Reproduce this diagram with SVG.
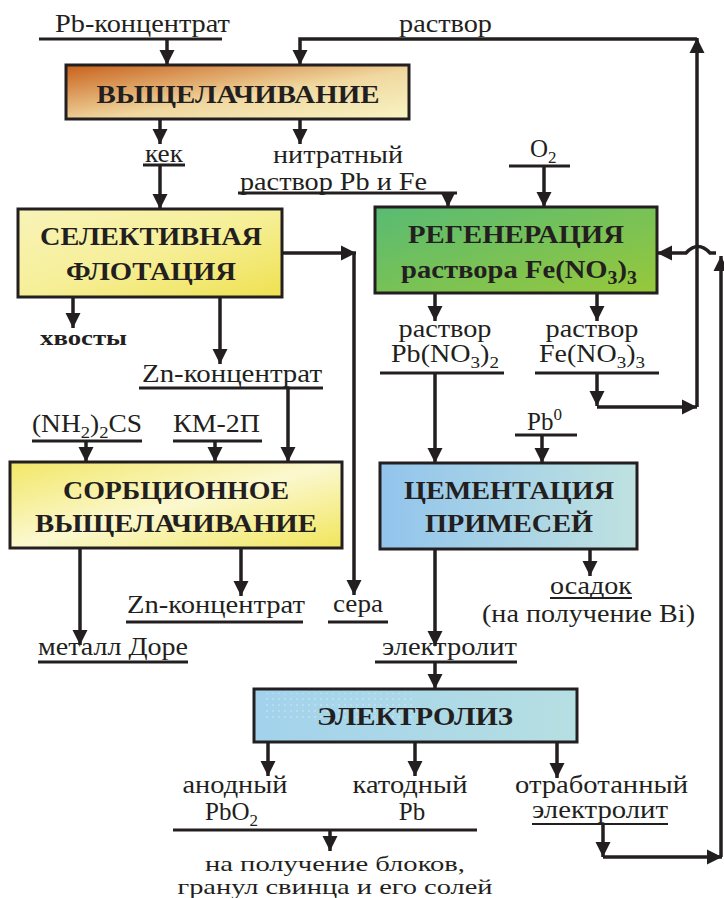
<svg xmlns="http://www.w3.org/2000/svg" width="724" height="898" viewBox="0 0 724 898" font-family="Liberation Serif, Times New Roman, serif">
<defs>
<style>
.t{font-size:25px;fill:#231f20}
.b{font-size:26px;font-weight:bold;fill:#231f20}
.c{text-anchor:middle}
.box{stroke:#231f20;stroke-width:3}
.ul{fill:none;stroke:#231f20;stroke-width:3}
.ul2{fill:none;stroke:#231f20;stroke-width:2}
.ar{fill:none;stroke:#231f20;stroke-width:3.5;marker-end:url(#ah)}
</style>
<marker id="ah" markerUnits="userSpaceOnUse" markerWidth="16" markerHeight="16" refX="15" refY="8" orient="auto">
<path d="M0,0.5 L15,8 L0,15.5 z" fill="#231f20"/>
</marker>
<linearGradient id="gLeach" x1="0" y1="0" x2="1" y2="1">
<stop offset="0" stop-color="#c8601a"/>
<stop offset="0.55" stop-color="#f0d8a0"/>
<stop offset="1" stop-color="#f8f4c4"/>
</linearGradient>
<linearGradient id="gFlot" x1="0" y1="0" x2="1" y2="1">
<stop offset="0" stop-color="#f8f3b8"/>
<stop offset="0.5" stop-color="#f6ef98"/>
<stop offset="1" stop-color="#efe150"/>
</linearGradient>
<linearGradient id="gSorb" x1="0" y1="0" x2="1" y2="1">
<stop offset="0" stop-color="#f2e766"/>
<stop offset="0.5" stop-color="#fbf8cf"/>
<stop offset="1" stop-color="#f1e55a"/>
</linearGradient>
<linearGradient id="gRegen" x1="0" y1="0" x2="1" y2="1">
<stop offset="0" stop-color="#58bb74"/>
<stop offset="1" stop-color="#97c83a"/>
</linearGradient>
<linearGradient id="gCem" x1="0" y1="0" x2="1" y2="0">
<stop offset="0" stop-color="#92c4ec"/>
<stop offset="1" stop-color="#bfe2e0"/>
</linearGradient>
<linearGradient id="gElec" x1="0" y1="0" x2="1" y2="0">
<stop offset="0" stop-color="#a2d2ec"/>
<stop offset="1" stop-color="#b6dfe2"/>
</linearGradient>
<pattern id="dots" width="6" height="6" patternUnits="userSpaceOnUse">
<circle cx="3" cy="3" r="0.8" fill="#ffffff" opacity="0.8"/>
</pattern>
</defs>
<rect width="724" height="898" fill="#ffffff"/>

<g id="connectors">
<path class="ar" d="M167,39 V65"/>
<path class="ar" d="M597,373 V406"/>
<path class="ar" d="M597,407 H697"/>
<path class="ar" d="M697,407 V38"/>
<path class="ar" d="M697,39 H300 V65"/>
<path class="ar" d="M160,119 V144"/>
<path class="ar" d="M160,165 V209"/>
<path class="ar" d="M300,119 V144"/>
<path class="ar" d="M448,193 V207"/>
<path class="ar" d="M544,166 V207"/>
<path class="ar" d="M282,253 H356"/>
<path class="ar" d="M354,253 V595"/>
<path class="ar" d="M73,297 V328"/>
<path class="ar" d="M220,297 V364"/>
<path class="ar" d="M288,388 V462"/>
<path class="ar" d="M86,441 V462"/>
<path class="ar" d="M215,441 V462"/>
<path class="ar" d="M80,548 V645"/>
<path class="ar" d="M241,548 V596"/>
<path class="ar" d="M435,293 V321"/>
<path class="ar" d="M597,293 V321"/>
<path class="ar" d="M435,373 V463"/>
<path class="ar" d="M542,435 V463"/>
<path class="ar" d="M435,549 V646"/>
<path class="ar" d="M435,662 V689"/>
<path class="ar" d="M590,549 V576"/>
<path class="ar" d="M268,742 V776"/>
<path class="ar" d="M415,742 V776"/>
<path class="ar" d="M557,742 V778"/>
<path class="ar" d="M330,830 V851"/>
<path class="ar" d="M603,824 V857"/>
<path class="ar" d="M603,857 H722"/>
<path class="ar" d="M721,857 V256"/>
<path class="ar" d="M716,253 H710 Q698,240 686,253 H657"/>
</g>

<g id="n-leach">
<rect class="box" x="66" y="65" width="343" height="54" fill="url(#gLeach)"/>
<text class="b c" x="238" y="103" textLength="283" lengthAdjust="spacingAndGlyphs">ВЫЩЕЛАЧИВАНИЕ</text>
</g>
<g id="n-flot">
<rect class="box" x="18" y="209" width="264" height="88" fill="url(#gFlot)"/>
<text class="b c" x="151" y="245" textLength="222" lengthAdjust="spacingAndGlyphs">СЕЛЕКТИВНАЯ</text>
<text class="b c" x="151" y="280" textLength="170" lengthAdjust="spacingAndGlyphs">ФЛОТАЦИЯ</text>
</g>
<g id="n-regen">
<rect class="box" x="375" y="207" width="282" height="86" fill="url(#gRegen)"/>
<text class="b c" x="516" y="243" textLength="216" lengthAdjust="spacingAndGlyphs">РЕГЕНЕРАЦИЯ</text>
<text class="b" x="401" y="278" textLength="236" lengthAdjust="spacingAndGlyphs">раствора Fe(NO<tspan dy="6" font-size="18">3</tspan><tspan dy="-6">)</tspan><tspan dy="6" font-size="18">3</tspan></text>
</g>
<g id="n-sorb">
<rect class="box" x="10" y="462" width="332" height="86" fill="url(#gSorb)"/>
<text class="b c" x="176" y="499" textLength="226" lengthAdjust="spacingAndGlyphs">СОРБЦИОННОЕ</text>
<text class="b c" x="176" y="532" textLength="282" lengthAdjust="spacingAndGlyphs">ВЫЩЕЛАЧИВАНИЕ</text>
</g>
<g id="n-cem">
<rect class="box" x="380" y="463" width="257" height="86" fill="url(#gCem)"/>
<text class="b c" x="509" y="499" textLength="210" lengthAdjust="spacingAndGlyphs">ЦЕМЕНТАЦИЯ</text>
<text class="b c" x="509" y="532" textLength="168" lengthAdjust="spacingAndGlyphs">ПРИМЕСЕЙ</text>
</g>
<g id="n-elec">
<rect class="box" x="254" y="689" width="323" height="53" fill="url(#gElec)"/>
<rect x="262" y="693" width="150" height="28" fill="url(#dots)" opacity="0.6"/>
<text class="b c" x="415" y="725" textLength="196" lengthAdjust="spacingAndGlyphs">ЭЛЕКТРОЛИЗ</text>
</g>

<g id="l-pbconc">
<text class="t" x="55" y="32" textLength="175" lengthAdjust="spacingAndGlyphs">Pb-концентрат</text>
<line class="ul" x1="39" y1="39" x2="222" y2="39"/>
</g>
<g id="l-rastvor-top">
<text class="t" x="399" y="32" textLength="93" lengthAdjust="spacingAndGlyphs">раствор</text>
</g>
<g id="l-kek">
<text class="t" x="145" y="162" textLength="38" lengthAdjust="spacingAndGlyphs">кек</text>
<line class="ul" x1="143" y1="165" x2="185" y2="165"/>
</g>
<g id="l-nitr">
<text class="t c" x="338" y="163" textLength="130" lengthAdjust="spacingAndGlyphs">нитратный</text>
<text class="t" x="240" y="190" textLength="187" lengthAdjust="spacingAndGlyphs">раствор Pb и Fe</text>
<line class="ul" x1="238" y1="193" x2="457" y2="193"/>
</g>
<g id="l-o2">
<text class="t" x="530" y="157">O<tspan dy="6" font-size="17">2</tspan></text>
<line class="ul" x1="509" y1="166" x2="570" y2="166"/>
</g>
<g id="l-tails">
<text class="b" x="40" y="345" style="font-size:20px" textLength="87" lengthAdjust="spacingAndGlyphs">хвосты</text>
</g>
<g id="l-zn1">
<text class="t" x="142" y="382" textLength="180" lengthAdjust="spacingAndGlyphs">Zn-концентрат</text>
<line class="ul" x1="139" y1="388" x2="323" y2="388"/>
</g>
<g id="l-thio">
<text class="t" x="32" y="432" textLength="110" lengthAdjust="spacingAndGlyphs">(NH<tspan dy="6" font-size="17">2</tspan><tspan dy="-6">)</tspan><tspan dy="6" font-size="17">2</tspan><tspan dy="-6">CS</tspan></text>
<line class="ul" x1="32" y1="441" x2="142" y2="441"/>
</g>
<g id="l-km">
<text class="t" x="173" y="432" textLength="87" lengthAdjust="spacingAndGlyphs">КМ-2П</text>
<line class="ul" x1="173" y1="441" x2="262" y2="441"/>
</g>
<g id="l-pbno3">
<text class="t c" x="445" y="337" textLength="93" lengthAdjust="spacingAndGlyphs">раствор</text>
<text class="t" x="391" y="362" textLength="108" lengthAdjust="spacingAndGlyphs">Pb(NO<tspan dy="6" font-size="17">3</tspan><tspan dy="-6">)</tspan><tspan dy="6" font-size="17">2</tspan></text>
<line class="ul" x1="380" y1="373" x2="504" y2="373"/>
</g>
<g id="l-feno3">
<text class="t c" x="592" y="337" textLength="93" lengthAdjust="spacingAndGlyphs">раствор</text>
<text class="t" x="539" y="362" textLength="106" lengthAdjust="spacingAndGlyphs">Fe(NO<tspan dy="6" font-size="17">3</tspan><tspan dy="-6">)</tspan><tspan dy="6" font-size="17">3</tspan></text>
<line class="ul" x1="535" y1="373" x2="659" y2="373"/>
</g>
<g id="l-pb0">
<text class="t" x="527" y="430">Pb<tspan dy="-10" font-size="17">0</tspan></text>
<line class="ul" x1="515" y1="435" x2="577" y2="435"/>
</g>
<g id="l-dore">
<text class="t" x="38" y="655" textLength="150" lengthAdjust="spacingAndGlyphs">металл Доре</text>
<line class="ul" x1="38" y1="662" x2="188" y2="662"/>
</g>
<g id="l-zn2">
<text class="t" x="127" y="613" textLength="178" lengthAdjust="spacingAndGlyphs">Zn-концентрат</text>
<line class="ul" x1="126" y1="622" x2="303" y2="622"/>
</g>
<g id="l-sera">
<text class="t" x="333" y="612" textLength="50" lengthAdjust="spacingAndGlyphs">сера</text>
<line class="ul" x1="328" y1="622" x2="388" y2="622"/>
</g>
<g id="l-osadok">
<text class="t" x="550" y="594" textLength="82" lengthAdjust="spacingAndGlyphs">осадок</text>
<line class="ul2" x1="550" y1="598" x2="632" y2="598"/>
<text class="t" x="482" y="622" textLength="213" lengthAdjust="spacingAndGlyphs">(на получение Bi)</text>
</g>
<g id="l-electrolyte">
<text class="t" x="382" y="655" textLength="135" lengthAdjust="spacingAndGlyphs">электролит</text>
<line class="ul" x1="375" y1="662" x2="517" y2="662"/>
</g>
<g id="l-anode">
<text class="t c" x="235" y="793" textLength="105" lengthAdjust="spacingAndGlyphs">анодный</text>
<text class="t" x="205" y="820">PbO<tspan dy="6" font-size="17">2</tspan></text>
</g>
<g id="l-cathode">
<text class="t c" x="410" y="793" textLength="115" lengthAdjust="spacingAndGlyphs">катодный</text>
<text class="t c" x="412" y="820">Pb</text>
</g>
<line class="ul" x1="173" y1="830" x2="477" y2="830"/>
<g id="l-spent">
<text class="t" x="515" y="793" textLength="173" lengthAdjust="spacingAndGlyphs">отработанный</text>
<text class="t" x="532" y="818" textLength="136" lengthAdjust="spacingAndGlyphs">электролит</text>
<line class="ul2" x1="532" y1="824" x2="668" y2="824"/>
</g>
<g id="l-products">
<text class="t c" x="335" y="871" style="font-size:22px" textLength="260" lengthAdjust="spacingAndGlyphs">на получение блоков,</text>
<text class="t c" x="335" y="894" style="font-size:22px" textLength="315" lengthAdjust="spacingAndGlyphs">гранул свинца и его солей</text>
</g>
</svg>
